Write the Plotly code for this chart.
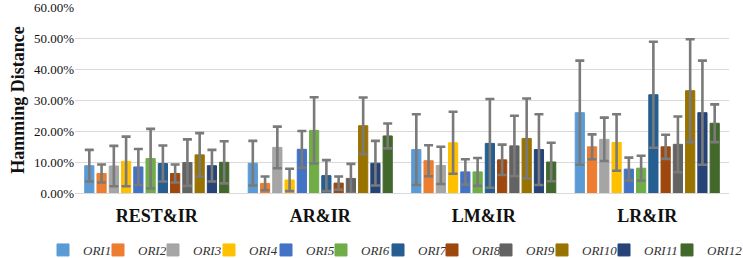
import plotly.graph_objects as go

categories = ["REST&IR", "AR&IR", "LM&IR", "LR&IR"]
series_names = ["ORI1", "ORI2", "ORI3", "ORI4", "ORI5", "ORI6",
                "ORI7", "ORI8", "ORI9", "ORI10", "ORI11", "ORI12"]

# mean values (%) per series, in category order
ori1 = [8.8, 9.6, 14.0, 25.9]
ori2 = [6.3, 3.1, 10.4, 14.9]
ori3 = [8.7, 14.7, 8.9, 17.3]
ori4 = [10.2, 4.2, 16.2, 16.3]
ori5 = [8.4, 14.1, 6.8, 7.7]
ori6 = [11.1, 20.2, 6.8, 8.0]
ori7 = [9.5, 5.6, 16.0, 31.7]
ori8 = [6.3, 3.2, 10.7, 14.9]
ori9 = [9.8, 4.7, 15.2, 15.7]
ori10 = [12.3, 21.7, 17.6, 33.0]
ori11 = [8.8, 9.6, 14.0, 25.9]
ori12 = [9.9, 18.4, 10.0, 22.5]

# error (std, %) per series
err1 = [5.1, 7.2, 11.4, 16.8]
err2 = [2.9, 2.2, 5.0, 4.0]
err3 = [6.5, 6.7, 6.0, 7.0]
err4 = [8.0, 3.6, 10.0, 9.1]
err5 = [5.8, 5.9, 4.1, 3.7]
err6 = [9.6, 10.7, 4.5, 4.0]
err7 = [5.8, 5.0, 14.3, 17.1]
err8 = [2.9, 2.1, 4.9, 3.9]
err9 = [7.5, 4.7, 9.7, 9.0]
err10 = [7.0, 9.1, 12.9, 16.6]
err11 = [5.1, 7.2, 11.4, 16.8]
err12 = [6.8, 4.0, 6.2, 6.1]

y_ticks = [0, 10, 20, 30, 40, 50, 60]

values = [ori1, ori2, ori3, ori4, ori5, ori6, ori7, ori8, ori9, ori10, ori11, ori12]
errors = [err1, err2, err3, err4, err5, err6, err7, err8, err9, err10, err11, err12]
colors = ["#5B9BD5", "#ED7D31", "#A5A5A5", "#FFC000", "#4472C4", "#70AD47",
          "#255E91", "#9E480E", "#636363", "#997300", "#264478", "#43682B"]

FONT = "Liberation Serif, Times New Roman, serif"
W, H = 743, 258
ML, MR, MT, MB = 75, 14, 7, 65
PW = W - ML - MR
PH = H - MT - MB

# legend symbol centres (px from left of the page)
legend_px = [62, 117, 172, 228, 285, 340, 397, 451, 505, 561, 623, 686]

fig = go.Figure()
layout_legends = {}
for i, (name, v, e, c) in enumerate(zip(series_names, values, errors, colors)):
    key = "legend" if i == 0 else f"legend{i + 1}"
    fig.add_trace(go.Bar(
        name=name, x=categories, y=v, legend=key,
        marker=dict(color=c, line=dict(color=c, width=1)),
        error_y=dict(type="data", array=e, visible=True,
                     color="#7a7a7a", thickness=2.6, width=4.5),
    ))
    left_px = legend_px[i] - 19
    layout_legends[key] = dict(
        orientation="h", xanchor="left", yanchor="top",
        x=(left_px - ML) / PW, y=-(235 - (MT + PH)) / PH,
        font=dict(family=FONT, size=13, color="#333333", style="italic"),
        itemwidth=30, bgcolor="rgba(0,0,0,0)", borderwidth=0,
    )

fig.update_layout(
    width=W, height=H,
    margin=dict(l=ML, r=MR, t=MT, b=MB, autoexpand=False),
    paper_bgcolor="white", plot_bgcolor="white",
    barmode="group", bargap=0.1, bargroupgap=0.25,
    font=dict(family=FONT, color="#222222"),
    showlegend=True,
    **layout_legends,
)
fig.update_xaxes(
    tickfont=dict(family=FONT, size=18, color="#111111", weight="bold"),
    showgrid=False, showline=False, ticks="", ticklabelstandoff=10,
    automargin=False,
)
fig.update_yaxes(
    range=[0, 60], tickvals=y_ticks,
    ticktext=[f"{t:.2f}%" for t in y_ticks],
    tickfont=dict(family=FONT, size=13, color="#111111"),
    ticklabeloverflow="allow",
    showgrid=True, gridcolor="#d9d9d9", gridwidth=1.3,
    zeroline=True, zerolinecolor="#d9d9d9", zerolinewidth=1.3,
    automargin=False,
    title=dict(text="Hamming Distance", standoff=4,
               font=dict(family=FONT, size=18, color="#111111", weight="bold")),
)

fig.write_html(
    "out.html",
    config={"displayModeBar": False},
    post_script="document.body.style.margin='0';document.body.style.overflow='hidden';",
)
